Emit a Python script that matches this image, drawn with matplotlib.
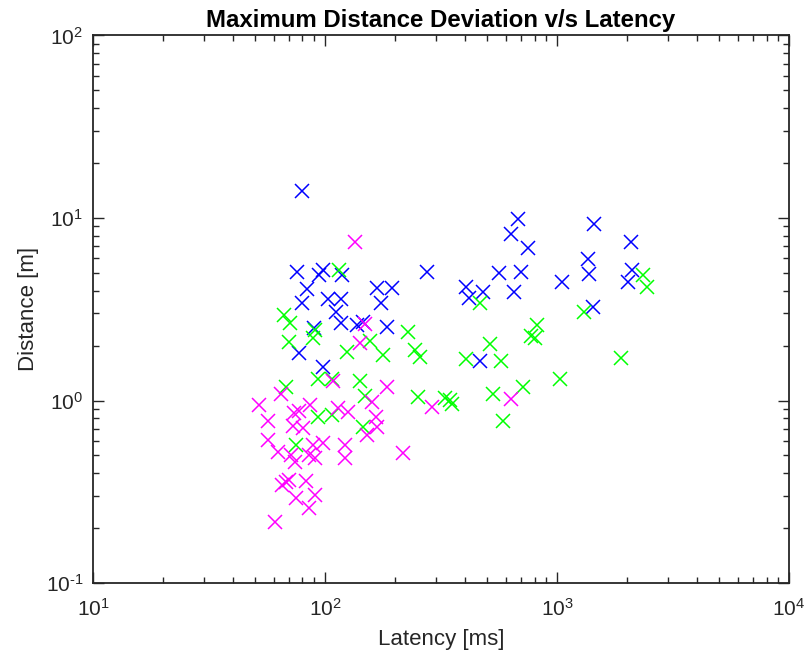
import matplotlib
matplotlib.use("Agg")
import math
import matplotlib.pyplot as plt
from matplotlib.ticker import LogLocator, NullFormatter, FuncFormatter

plt.rcParams["font.family"] = ["Liberation Sans", "DejaVu Sans"]
plt.rcParams["mathtext.fontset"] = "custom"
plt.rcParams["mathtext.rm"] = "Liberation Sans"
plt.rcParams["mathtext.it"] = "Liberation Sans:italic"
plt.rcParams["mathtext.bf"] = "Liberation Sans:bold"

# Latency [ms] and maximum distance deviation [m] per run, by group
blue_latency = [79.8, 76.0, 97.7, 94.5, 118.8, 274.4, 83.9, 168.1, 195, 79.6,
                103.3, 116.9, 174.3, 111.5, 117.2, 136.9, 146.3, 185.6, 89.7, 77.3,
                98.3, 681, 631.6, 752, 1448, 2078, 1356, 1378, 2111, 2017,
                564, 697.6, 405.3, 418.8, 481.2, 652.6, 1054, 1425, 465.6]
blue_distance = [14.1, 5.04, 5.19, 4.85, 4.85, 5.08, 4.07, 4.12, 4.12, 3.43,
                 3.58, 3.58, 3.43, 3.04, 2.65, 2.59, 2.70, 2.54, 2.49, 1.81,
                 1.53, 9.87, 8.17, 6.82, 9.27, 7.42, 5.94, 4.93, 5.19, 4.48,
                 4.98, 5.04, 4.20, 3.66, 3.95, 3.95, 4.48, 3.24, 1.65]

green_latency = [114.9, 66.9, 70.7, 90.6, 89.1, 228.6, 70.2, 156.3, 244.3, 256.8,
                 124.0, 178.4, 93.6, 106.9, 141.5, 67.9, 148.8, 251, 93.6, 106.9,
                 145.4, 75.0, 2355, 2436, 465.6, 1311, 817.6, 770, 804, 514.3,
                 405.3, 573.7, 1887, 1030, 715.8, 531.4, 329, 345.8, 351.6, 583]
green_distance = [5.19, 2.94, 2.67, 2.43, 2.19, 2.38, 2.10, 2.13, 1.89, 1.74,
                  1.85, 1.78, 1.31, 1.31, 1.28, 1.18, 1.06, 1.04, 0.809, 0.833,
                  0.718, 0.571, 4.87, 4.20, 3.41, 3.04, 2.59, 2.26, 2.19, 2.04,
                  1.69, 1.65, 1.72, 1.32, 1.18, 1.085, 1.03, 1.006, 0.957, 0.772]

magenta_latency = [134.7, 148.8, 141.5, 108.6, 64.4, 184.5, 159, 289, 51.9, 57.0,
                   73.8, 77.3, 86.1, 73.0, 114.1, 126, 165.4, 167, 80.8, 151.2,
                   57.0, 62.9, 71.4, 74.2, 85.6, 90.6, 98.3, 89.1, 121.9, 121.9,
                   217.6, 65.3, 67.9, 70.3, 82.8, 74.8, 90.6, 85.3, 60.9, 631.6]
magenta_distance = [7.42, 2.63, 2.06, 1.28, 1.085, 1.18, 0.985, 0.925, 0.945, 0.777,
                    0.851, 0.879, 0.945, 0.725, 0.906, 0.868, 0.815, 0.720, 0.711, 0.647,
                    0.608, 0.524, 0.503, 0.462, 0.503, 0.486, 0.583, 0.571, 0.571, 0.482,
                    0.514, 0.344, 0.358, 0.367, 0.363, 0.291, 0.303, 0.257, 0.215, 1.015]

axis_color = "#262626"


def decade_label(value, pos):
    exponent = int(round(math.log10(value)))
    if exponent < 0:
        return r"$10^{\text{-}%d}$" % (-exponent)
    return r"$10^{%d}$" % exponent


fig = plt.figure(figsize=(8.07, 6.57), dpi=100)
ax = fig.add_axes([0.1152, 0.1126, 0.8625, 0.8334])

marker_style = dict(linestyle="none", marker="x", markersize=9.5, markeredgewidth=1.1)
ax.plot(blue_latency, blue_distance, color="#0000ff", **marker_style)
ax.plot(green_latency, green_distance, color="#00ff00", **marker_style)
ax.plot(magenta_latency, magenta_distance, color="#ff00ff", **marker_style)

ax.set_xscale("log")
ax.set_yscale("log")
ax.set_xlim(10, 1e4)
ax.set_ylim(0.1, 100)

for axis in (ax.xaxis, ax.yaxis):
    axis.set_major_locator(LogLocator(base=10, numticks=10))
    axis.set_minor_locator(LogLocator(base=10, subs=range(2, 10), numticks=20))
    axis.set_major_formatter(FuncFormatter(decade_label))
    axis.set_minor_formatter(NullFormatter())

ax.tick_params(which="both", direction="in", top=True, right=True,
               color=axis_color, labelcolor=axis_color, labelsize=15, width=1.0)
ax.tick_params(which="major", length=8, pad=7)
ax.tick_params(axis="x", which="major", pad=11)
ax.tick_params(which="minor", length=4.5)

for spine in ax.spines.values():
    spine.set_color(axis_color)
    spine.set_linewidth(1.3)

ax.set_xlabel("Latency [ms]", fontsize=16, color=axis_color, labelpad=6)
ax.set_ylabel("Distance [m]", fontsize=16, color=axis_color, labelpad=5)
ax.set_title("Maximum Distance Deviation v/s Latency", fontsize=17.3,
             fontweight="bold", color="black", pad=6)

fig.savefig("out.png", dpi=100)
